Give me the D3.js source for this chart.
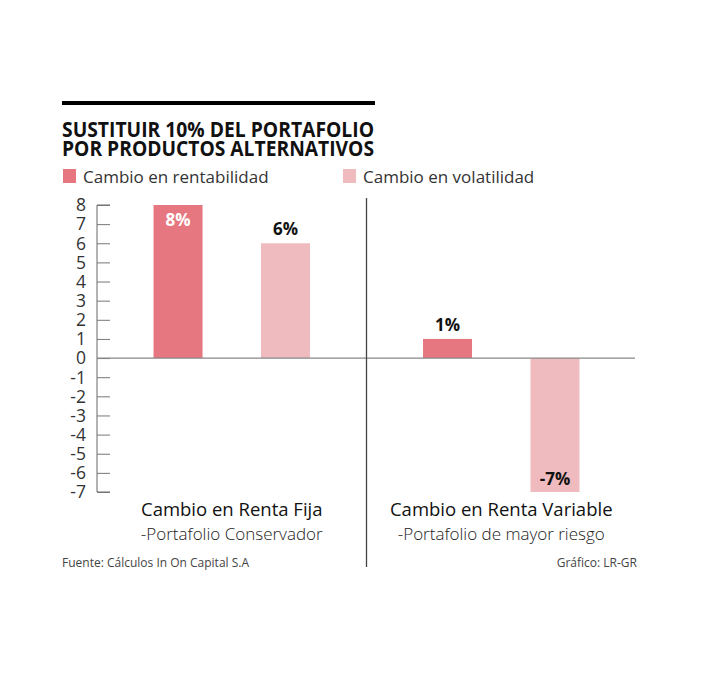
<!DOCTYPE html>
<html><head><meta charset="utf-8">
<script src="https://cdn.jsdelivr.net/npm/d3@7"></script>
<style>body{margin:0;background:#fff}</style>
</head><body>
<script>
const groups = ["Cambio en Renta Fija", "Cambio en Renta Variable"];
const groupSubs = ["-Portafolio Conservador", "-Portafolio de mayor riesgo"];
const seriesNames = ["Cambio en rentabilidad", "Cambio en volatilidad"];
const rentabilidad = [8, 1];
const volatilidad = [6, -7];
const yTicks = [8,7,6,5,4,3,2,1,0,-1,-2,-3,-4,-5,-6,-7];
const colors = ["#e67781", "#efbbbf"];

const W = 706, H = 675;
const font = "'Open Sans', sans-serif";
const svg = d3.select("body").append("svg").attr("width", W).attr("height", H);

// title bar + title
svg.append("rect").attr("x", 62).attr("y", 101).attr("width", 313).attr("height", 4).attr("fill", "#000");
const title = ["SUSTITUIR 10% DEL PORTAFOLIO", "POR PRODUCTOS ALTERNATIVOS"];
title.forEach((t, i) => svg.append("text").attr("x", 62).attr("y", 137 + i * 19)
  .attr("font-family", font).attr("font-weight", 700).attr("font-size", 21)
  .attr("textLength", 312).attr("lengthAdjust", "spacingAndGlyphs")
  .attr("fill", "#111").text(t));

// legend
const legX = [63, 343];
seriesNames.forEach((s, i) => {
  svg.append("rect").attr("x", legX[i]).attr("y", 169).attr("width", 13).attr("height", 14).attr("fill", colors[i]);
  svg.append("text").attr("x", legX[i] + 20).attr("y", 183).attr("font-family", font)
    .attr("font-size", 17).attr("fill", "#333").text(s);
});

const y = d3.scaleLinear().domain([-7, 8]).range([492, 205]);
const x0 = d3.scaleBand().domain(groups).range([97, 636]);
const x1 = d3.scaleBand().domain(seriesNames).range([0, x0.bandwidth()]).paddingInner(0.544).paddingOuter(0.526);

// axis
const axis = d3.axisRight(y).tickValues(yTicks).tickSize(13).tickFormat("");
const ag = svg.append("g").attr("transform", "translate(97,0)").call(axis);
ag.select(".domain").attr("stroke", "#666").attr("d", `M13,${y(8)}H0V${y(-7)}H13`);
ag.selectAll(".tick line").attr("stroke", "#777");
yTicks.forEach(v => svg.append("text").attr("x", 86).attr("y", y(v)).attr("dy", "0.36em")
  .attr("text-anchor", "end").attr("font-family", font).attr("font-size", 17.5).attr("fill", "#333").text(v));

// bars
const data = [];
groups.forEach((g, gi) => {
  data.push({g, s: seriesNames[0], v: rentabilidad[gi], c: colors[0]});
  data.push({g, s: seriesNames[1], v: volatilidad[gi], c: colors[1]});
});
svg.selectAll(".bar").data(data).enter().append("rect")
  .attr("x", d => x0(d.g) + x1(d.s)).attr("width", x1.bandwidth())
  .attr("y", d => y(Math.max(0, d.v))).attr("height", d => Math.abs(y(d.v) - y(0)))
  .attr("fill", d => d.c);

// zero line
svg.append("line").attr("x1", 97).attr("x2", 635).attr("y1", y(0)).attr("y2", y(0)).attr("stroke", "#888").attr("stroke-width", 1.3);

// divider
svg.append("line").attr("x1", x0(groups[1])).attr("x2", x0(groups[1])).attr("y1", 198).attr("y2", 567)
  .attr("stroke", "#444").attr("stroke-width", 1.3);

// value labels
data.forEach(d => {
  const cx = x0(d.g) + x1(d.s) + x1.bandwidth() / 2;
  let yy, fill;
  if (d.v === d3.max(data, e => e.v)) { yy = y(d.v) + 21; fill = "#fff"; }
  else if (d.v < 0) { yy = y(d.v) - 7; fill = "#111"; }
  else { yy = y(d.v) - 8; fill = "#111"; }
  svg.append("text").attr("x", cx).attr("y", yy).attr("text-anchor", "middle")
    .attr("font-family", font).attr("font-weight", 700).attr("font-size", 17).attr("fill", fill).text(d.v + "%");
});

// category labels
groups.forEach((g, i) => {
  const cx = x0(g) + x0.bandwidth() / 2;
  svg.append("text").attr("x", cx).attr("y", 516).attr("text-anchor", "middle").attr("font-family", font)
    .attr("font-size", 18.5).attr("fill", "#111").text(g);
  svg.append("text").attr("x", cx).attr("y", 540).attr("text-anchor", "middle").attr("font-family", font)
    .attr("font-size", 17).attr("font-weight", 300).attr("fill", "#222").text(groupSubs[i]);
});

// footer
svg.append("text").attr("x", 62).attr("y", 567).attr("font-family", font).attr("font-size", 12).attr("fill", "#444").text("Fuente: Cálculos In On Capital S.A");
svg.append("text").attr("x", 637).attr("y", 567).attr("text-anchor", "end").attr("font-family", font).attr("font-size", 12).attr("fill", "#444").text("Gráfico: LR-GR");
</script>
</body></html>
